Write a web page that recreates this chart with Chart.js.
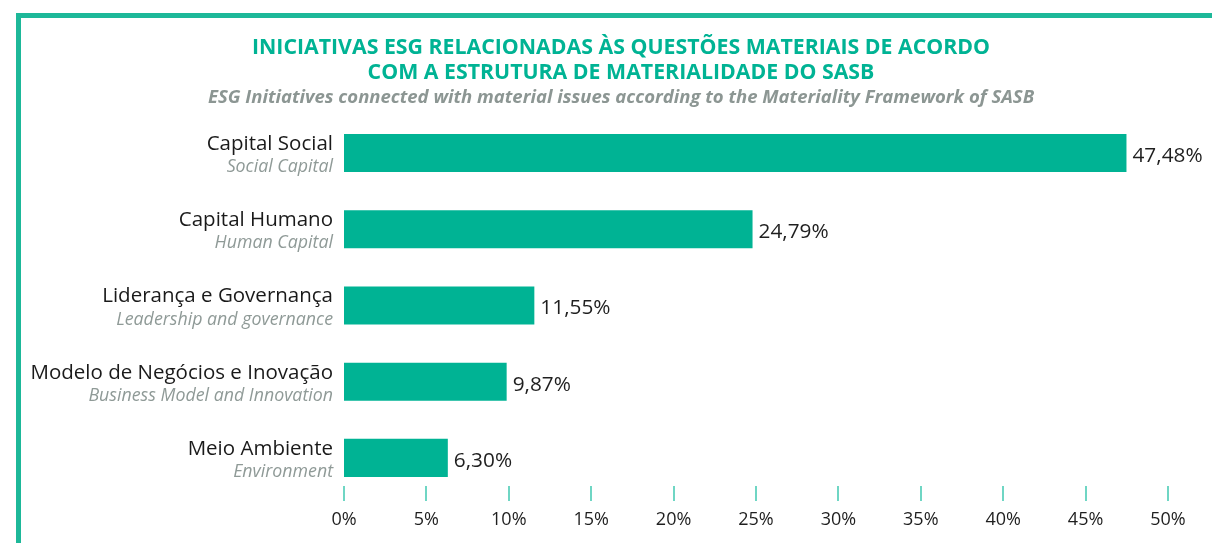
<!DOCTYPE html>
<html>
<head>
<meta charset="utf-8">
<script src="https://cdn.jsdelivr.net/npm/chart.js@4.4.0/dist/chart.umd.min.js"></script>
<style>
    html, body { margin: 0; padding: 0; background: #fff; }
    #wrap { position: relative; width: 1212px; height: 543px; overflow: hidden; }
    #frame {
        position: absolute; left: 16px; top: 13px; right: -10px; bottom: -10px;
        border-top: 5px solid #1db899; border-left: 5px solid #1db899;
    }
    canvas { position: absolute; left: 0; top: 0; }
</style>
</head>
<body>
<div id="wrap">
    <div id="frame"></div>
    <canvas id="chart" width="1212" height="543"></canvas>
</div>
<script>
// 카테고리 (포르투갈어 / 영어)
const categories = ['Capital Social', 'Capital Humano', 'Liderança e Governança', 'Modelo de Negócios e Inovação', 'Meio Ambiente'];
const categoriesEn = ['Social Capital', 'Human Capital', 'Leadership and governance', 'Business Model and Innovation', 'Environment'];
const values = [47.48, 24.79, 11.55, 9.87, 6.30];
const xTicks = [0, 5, 10, 15, 20, 25, 30, 35, 40, 45, 50];

const teal = '#00b394';
const fontFamily = '"Open Sans", "Noto Sans", sans-serif';

function fmtPct(v) {
    return v.toFixed(2).replace('.', ',') + '%';
}

// y축 라벨 두 줄 (스타일이 달라서 직접 그림)
const labelPlugin = {
    id: 'labelPlugin',
    afterDraw(chart) {
        const ctx = chart.ctx;
        const y = chart.scales.y;
        const x = chart.scales.x;
        const area = chart.chartArea;
        ctx.save();
        ctx.textAlign = 'right';
        ctx.textBaseline = 'middle';
        categories.forEach((c, i) => {
            const py = y.getPixelForValue(i);
            ctx.fillStyle = '#1a1a1a';
            ctx.font = '20.5px ' + fontFamily;
            ctx.fillText(c, area.left - 11, py - 9);
            ctx.fillStyle = '#8f9a97';
            ctx.font = 'italic 17.8px ' + fontFamily;
            ctx.fillText(categoriesEn[i], area.left - 11, py + 14);
        });

        // 값 라벨
        const meta = chart.getDatasetMeta(0);
        ctx.textAlign = 'left';
        ctx.fillStyle = '#1f1f1f';
        ctx.font = '20.8px ' + fontFamily;
        meta.data.forEach((bar, i) => {
            ctx.fillText(fmtPct(values[i]), bar.x + 6, bar.y + 3);
        });

        // x축 눈금 표시
        ctx.strokeStyle = '#6fd6c4';
        ctx.lineWidth = 2;
        xTicks.forEach(t => {
            const px = Math.round(x.getPixelForValue(t));
            ctx.beginPath();
            ctx.moveTo(px, area.bottom - 10);
            ctx.lineTo(px, area.bottom + 5);
            ctx.stroke();
        });
        ctx.restore();
    }
};

new Chart(document.getElementById('chart').getContext('2d'), {
    type: 'bar',
    data: {
        labels: categories,
        datasets: [{
            data: values,
            backgroundColor: teal,
            borderWidth: 0,
            categoryPercentage: 1,
            barPercentage: 0.5
        }]
    },
    options: {
        indexAxis: 'y',
        responsive: false,
        animation: false,
        layout: { padding: { left: 74, right: 44, top: 0, bottom: 0 } },
        plugins: {
            legend: { display: false },
            tooltip: { enabled: false },
            title: {
                display: true,
                text: ['INICIATIVAS ESG RELACIONADAS ÀS QUESTÕES MATERIAIS DE ACORDO', 'COM A ESTRUTURA DE MATERIALIDADE DO SASB'],
                color: teal,
                font: { family: fontFamily, size: 21.3, weight: 'bold', lineHeight: 1.174 },
                padding: { top: 35.5, bottom: 2.3 }
            },
            subtitle: {
                display: true,
                text: 'ESG Initiatives connected with material issues according to the Materiality Framework of SASB',
                color: '#8c9693',
                font: { family: fontFamily, size: 18.5, weight: 'bold', style: 'italic', lineHeight: 1.1 },
                padding: { top: 0, bottom: 6.8 }
            }
        },
        scales: {
            x: {
                min: 0,
                max: 50,
                afterBuildTicks(scale) {
                    scale.ticks = xTicks.map(v => ({ value: v }));
                },
                afterFit(scale) { scale.height = 47; },
                grid: { display: false, drawTicks: false },
                border: { display: false },
                ticks: {
                    padding: 13,
                    color: '#1f1f1f',
                    font: { family: fontFamily, size: 18 },
                    callback: v => v + '%'
                }
            },
            y: {
                afterFit(scale) { scale.width = 270; },
                grid: { display: false, drawTicks: false },
                border: { display: false },
                ticks: { display: false }
            }
        }
    },
    plugins: [labelPlugin]
});
</script>
</body>
</html>
